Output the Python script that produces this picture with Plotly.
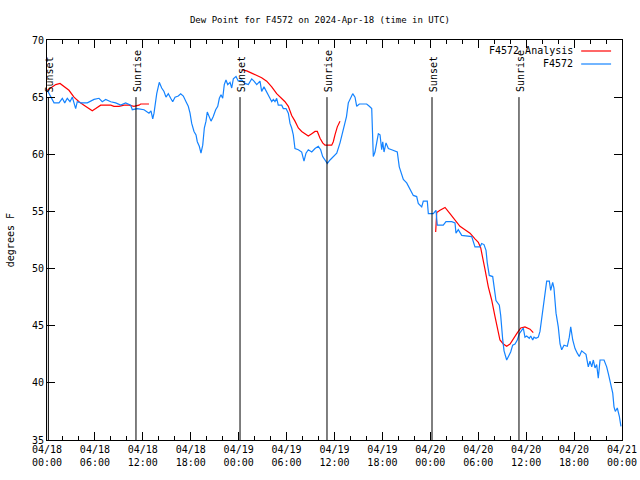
import pandas as pd
import plotly.graph_objects as go

# ---------------- data ----------------
base = pd.Timestamp("2024-04-18 00:00")

obs_hours = [0.04, 0.46, 0.88, 1.50, 1.92, 2.22, 2.54, 2.88, 3.17, 3.59, 3.79, 4.22, 5.05, 5.89,
             6.51, 6.92, 7.35, 7.98, 8.60, 9.23, 9.85, 10.48, 10.68, 11.31, 12.15, 12.77, 13.02,
             13.24, 13.40, 13.74, 14.06, 14.36, 14.65, 14.90, 15.19, 15.49, 15.74, 16.03, 16.44,
             16.74, 17.07, 17.41, 17.69, 17.91, 18.12, 18.41, 18.66, 18.82, 19.07, 19.28, 19.50,
             19.70, 19.91, 20.07, 20.32, 20.54, 20.82, 21.12, 21.38, 21.58, 21.79, 22.00, 22.20,
             22.41, 22.63, 22.92, 23.13, 23.33, 23.67, 23.95, 24.38, 24.79, 25.21, 25.63, 25.92,
             26.26, 26.67, 26.88, 27.17, 27.51, 27.71, 27.92, 28.14, 28.34, 28.55, 28.76, 28.96,
             29.39, 29.59, 29.93, 30.22, 30.43, 30.64, 30.84, 31.05, 31.47, 31.89, 32.18, 32.43,
             32.72, 33.15, 33.56, 33.97, 34.27, 34.52, 34.81, 35.10, 35.44, 35.85, 36.28, 36.69,
             37.10, 37.50, 37.73, 38.03, 38.28, 38.57, 38.78, 39.11, 40.03, 40.36, 40.66, 40.86,
             41.07, 41.28, 41.49, 41.70, 41.91, 42.04, 42.20, 42.45, 42.74, 43.16, 43.86, 44.11,
             44.42, 44.62, 45.04, 45.45, 45.87, 46.29, 46.49, 46.92, 47.12, 47.62, 47.75, 48.37,
             48.71, 48.87, 49.62, 49.96, 50.68, 51.09, 51.21, 51.50, 51.93, 53.18, 53.59, 54.22,
             54.43, 54.72, 54.97, 55.13, 55.38, 55.81, 55.97, 56.22, 56.64, 56.81, 57.06, 57.23,
             57.56, 57.76, 58.06, 58.31, 58.60, 58.89, 59.14, 59.44, 59.64, 59.85, 60.06, 60.39,
             60.57, 60.82, 60.98, 61.23, 61.52, 61.73, 61.94, 62.15, 62.36, 62.57, 62.90, 63.07,
             63.32, 63.48, 63.74, 64.02, 64.24, 64.45, 64.74, 65.15, 65.40, 65.58, 65.83, 66.12,
             66.40, 66.65, 66.95, 67.49, 67.78, 67.99, 68.21, 68.41, 68.62, 68.83, 69.03, 69.25,
             69.75, 70.08, 70.29, 70.58, 70.84, 71.00, 71.16, 71.41, 71.66, 71.87]
obs_values = [65.6, 65.1, 64.5, 64.5, 64.9, 64.5, 64.9, 64.6, 65.0, 64.0, 64.6, 64.5, 64.5, 64.8,
              64.9, 64.6, 64.8, 64.6, 64.5, 64.3, 64.5, 64.3, 63.9, 64.0, 63.9, 63.6, 63.8,
              63.1, 63.6, 65.3, 66.3, 65.8, 65.5, 65.0, 65.3, 64.9, 64.6, 65.0, 65.1,
              65.3, 65.1, 64.6, 64.2, 63.6, 62.7, 62.0, 61.7, 61.1, 60.7, 60.1, 60.8,
              62.3, 62.9, 63.7, 63.3, 62.9, 63.3, 63.9, 64.2, 64.9, 65.2, 64.9, 66.1,
              66.5, 66.1, 66.3, 65.8, 66.6, 66.8, 66.4, 66.5, 66.2, 66.1, 66.6, 66.4,
              66.1, 66.4, 65.5, 65.9, 65.5, 65.2, 64.9, 64.6, 64.8, 64.6, 64.9, 64.3,
              64.3, 64.0, 64.0, 63.6, 62.7, 62.3, 61.7, 60.5, 60.4, 60.2, 59.4, 60.1,
              60.4, 60.2, 60.5, 60.7, 60.4, 59.8, 59.5, 59.2, 59.5, 59.8, 60.1, 61.0,
              62.1, 63.3, 64.5, 65.0, 65.3, 65.0, 64.2, 64.4, 64.4, 64.2, 64.0, 59.8,
              60.2, 61.0, 61.8, 61.7, 60.4, 61.1, 60.2, 61.0, 60.5, 60.4, 60.2, 58.9,
              58.2, 57.8, 57.5, 56.9, 56.4, 56.3, 55.7, 55.4, 55.9, 55.9, 54.8, 54.8,
              55.1, 53.8, 53.8, 54.1, 54.1, 54.0, 53.1, 53.4, 52.9, 52.8, 51.9, 51.9,
              52.2, 52.1, 51.6, 50.5, 49.4, 49.3, 48.3, 47.2, 46.8, 45.9, 43.8, 42.8,
              42.0, 42.3, 42.7, 43.3, 43.4, 43.75, 44.3, 44.6, 44.8, 44.0, 44.1, 43.9,
              44.1, 43.75, 44.0, 43.9, 44.0, 44.5, 45.5, 46.5, 47.5, 48.9, 48.9, 48.1,
              48.8, 48.3, 46.1, 44.9, 43.4, 42.9, 43.3, 43.2, 44.0, 44.9, 43.75, 43.0,
              42.6, 42.3, 42.8, 42.5, 41.4, 41.9, 41.4, 42.0, 41.3, 41.6, 40.4, 42.0,
              42.0, 41.4, 40.8, 40.0, 39.1, 37.9, 37.5, 37.8, 37.1, 36.2]

ana_hours = [0.04, 0.46, 1.09, 1.63, 2.13, 2.75, 3.38, 4.01, 4.63, 5.26, 5.67, 6.10, 6.72, 7.98,
             8.39, 9.02, 9.64, 10.27, 10.89, 11.52, 11.73, 12.77, 18.0,
             24.38, 25.01, 25.63, 26.26, 26.88, 27.51, 28.14, 28.76, 29.39, 29.80, 30.22, 30.64,
             31.05, 31.47, 31.89, 32.30, 32.72, 33.15, 33.56, 33.85, 34.19, 34.52, 34.81, 35.65,
             35.85, 36.06, 36.35, 36.69, 42.0,
             48.67, 48.80, 49.21, 49.84, 50.46, 51.09, 51.71, 52.34, 52.97, 53.59, 54.01, 54.31,
             54.56, 54.85, 55.26, 55.68, 56.10, 56.51, 56.72, 57.14, 57.56, 57.98, 58.39, 58.82,
             59.32, 59.85, 60.48, 60.89]
ana_values = [65.6, 65.8, 66.1, 66.2, 65.9, 65.6, 65.0, 64.6, 64.3, 64.0, 63.8, 64.0, 64.3, 64.3,
              64.2, 64.2, 64.3, 64.3, 64.2, 64.3, 64.4, 64.4, None,
              67.4, 67.3, 67.1, 66.9, 66.7, 66.4, 65.9, 65.3, 64.9, 64.6, 64.2, 63.4,
              62.9, 62.3, 62.0, 61.8, 61.6, 61.8, 62.0, 62.0, 61.4, 61.0, 60.8, 60.8,
              61.1, 61.7, 62.4, 62.9, None,
              53.2, 54.9, 55.1, 55.35, 54.8, 54.25, 53.7, 53.4, 53.1, 52.6, 52.3, 51.8,
              50.75, 49.9, 48.4, 47.25, 45.8, 44.6, 43.75, 43.4, 43.2, 43.4, 43.9, 44.3,
              44.8, 44.9, 44.7, 44.4]

event_hours = [0.17, 11.14, 24.17, 35.06, 48.21, 59.10]
event_labels = ["Sunset", "Sunrise", "Sunset", "Sunrise", "Sunset", "Sunrise"]
event_bottom, event_top = 35, 65

y_range = [35, 70]
x_range_hours = [0, 72]

title_text = "Dew Point for F4572 on 2024-Apr-18 (time in UTC)"
y_title = "degrees F"
series_names = ["F4572 Analysis", "F4572"]

# ---------------- figure ----------------
def to_dt(hours):
    return [base + pd.Timedelta(hours=h) for h in hours]

FONT = "DejaVu Sans Mono"
RED = "#ff0000"
BLUE = "#1483ff"
FS = 10

fig = go.Figure()
fig.add_trace(go.Scatter(x=to_dt(ana_hours), y=ana_values, mode="lines",
                         line=dict(color=RED, width=1.2), connectgaps=False,
                         name=series_names[0], showlegend=False))
fig.add_trace(go.Scatter(x=to_dt(obs_hours), y=obs_values, mode="lines",
                         line=dict(color=BLUE, width=1.2),
                         name=series_names[1], showlegend=False))

for h, lab in zip(event_hours, event_labels):
    t = base + pd.Timedelta(hours=h)
    fig.add_shape(type="line", xref="x", yref="y", x0=t, x1=t, y0=event_bottom, y1=event_top,
                  line=dict(color="black", width=1), layer="above")
    fig.add_annotation(x=t, y=event_top, xref="x", yref="y", text=lab, textangle=-90,
                       showarrow=False, yanchor="bottom", xanchor="center", yshift=3, xshift=1,
                       font=dict(family=FONT, size=FS, color="black"))

# legend (manual, gnuplot style: text then line sample)
for i, (name, col) in enumerate(zip(series_names, [RED, BLUE])):
    yp = 0.9725 - i * 0.0325
    fig.add_annotation(x=0.918, y=yp, xref="paper", yref="paper", text=name, showarrow=False,
                       xanchor="right", yanchor="middle",
                       font=dict(family=FONT, size=FS, color="black"))
    fig.add_shape(type="line", xref="paper", yref="paper", x0=0.929, x1=0.981, y0=yp, y1=yp,
                  line=dict(color=col, width=1.2))

fig.add_annotation(x=-0.064, y=0.5, xref="paper", yref="paper", text=y_title, textangle=-90,
                   showarrow=False, xanchor="center", yanchor="middle",
                   font=dict(family=FONT, size=FS, color="black"))

fig.update_layout(
    width=640, height=480,
    margin=dict(l=47, r=18, t=40, b=40, autoexpand=False),
    paper_bgcolor="white", plot_bgcolor="white",
    font=dict(family=FONT, size=FS, color="black"),
    title=dict(text=title_text, x=0.5, xref="container", y=1 - 20 / 480, yref="container",
               xanchor="center", yanchor="middle", font=dict(family=FONT, size=9)),
    showlegend=False,
)
fig.update_xaxes(
    type="date", range=to_dt(x_range_hours), automargin=False,
    tickformat="%m/%d<br>%H:%M", dtick=6 * 3600 * 1000, tick0=base,
    ticks="inside", ticklen=8, tickcolor="black", tickwidth=1,
    minor=dict(dtick=2 * 3600 * 1000, ticks="inside", ticklen=4, tickcolor="black"),
    showline=True, linecolor="black", linewidth=1, mirror="ticks",
    showgrid=False, zeroline=False, tickfont=dict(family=FONT, size=FS),
)
fig.update_yaxes(
    range=y_range, dtick=5, tick0=35, automargin=False,
    ticks="inside", ticklen=8, tickcolor="black", tickwidth=1,
    showline=True, linecolor="black", linewidth=1, mirror="ticks",
    showgrid=False, zeroline=False, tickfont=dict(family=FONT, size=FS),
)

fig.write_html("out.html", config={"displayModeBar": False},
               post_script="document.body.style.margin='0';document.body.style.overflow='hidden';")
